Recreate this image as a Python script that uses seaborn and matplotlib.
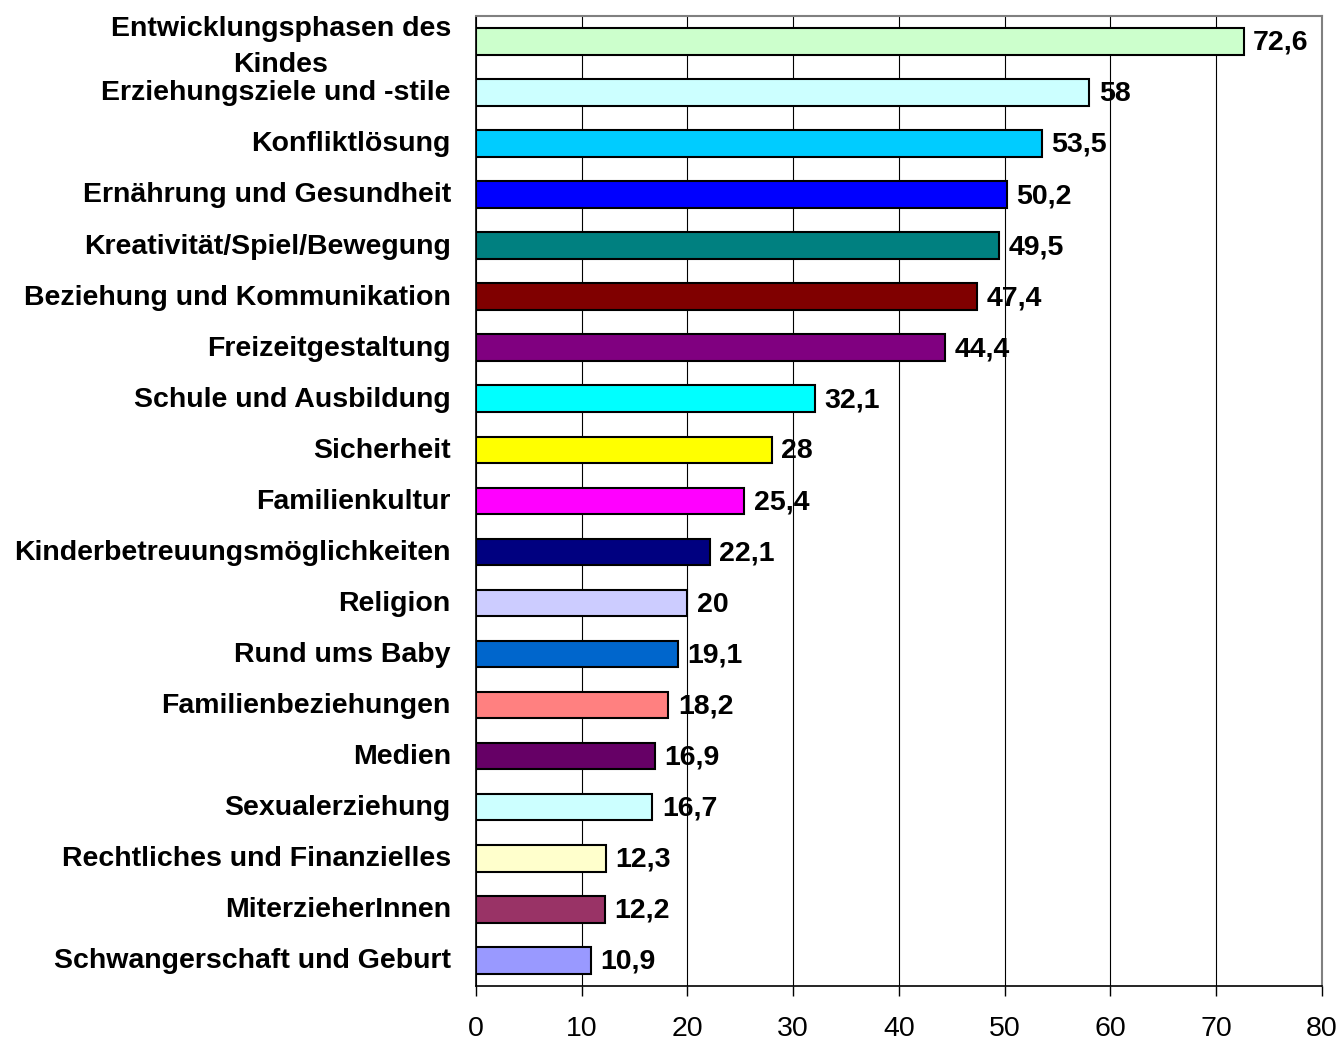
import pandas as pd
import matplotlib.pyplot as plt
import seaborn as sns

# Themen und Anteile (%)
themen = [
    "Entwicklungsphasen des\nKindes",
    "Erziehungsziele und -stile",
    "Konfliktlösung",
    "Ernährung und Gesundheit",
    "Kreativität/Spiel/Bewegung",
    "Beziehung und Kommunikation",
    "Freizeitgestaltung",
    "Schule und Ausbildung",
    "Sicherheit",
    "Familienkultur",
    "Kinderbetreuungsmöglichkeiten",
    "Religion",
    "Rund ums Baby",
    "Familienbeziehungen",
    "Medien",
    "Sexualerziehung",
    "Rechtliches und Finanzielles",
    "MiterzieherInnen",
    "Schwangerschaft und Geburt",
]
werte = [72.6, 58, 53.5, 50.2, 49.5, 47.4, 44.4, 32.1, 28, 25.4,
         22.1, 20, 19.1, 18.2, 16.9, 16.7, 12.3, 12.2, 10.9]
farben = ["#CCFFCC", "#CCFFFF", "#00CCFF", "#0000FF", "#008080", "#800000",
          "#800080", "#00FFFF", "#FFFF00", "#FF00FF", "#000080", "#CCCCFF",
          "#0066CC", "#FF8080", "#660066", "#CCFFFF", "#FFFFCC", "#993366",
          "#9999FF"]
x_ticks = [0, 10, 20, 30, 40, 50, 60, 70, 80]

df = pd.DataFrame({"Thema": themen, "Wert": werte})

sns.set_style("white")
plt.rcParams['font.family'] = ['Liberation Sans', 'DejaVu Sans']
plt.rcParams['text.color'] = 'black'
plt.rcParams['xtick.color'] = 'black'
plt.rcParams['ytick.color'] = 'black'

fig = plt.figure(figsize=(13.44, 10.40), dpi=100)
ax = fig.add_axes([0.354, 0.052, 0.6296, 0.9328])

sns.barplot(data=df, x="Wert", y="Thema", hue="Thema", palette=farben,
            legend=False, width=0.52, edgecolor="black", linewidth=1.5,
            saturation=1, ax=ax, zorder=3)

# Werte an den Balkenenden
for i, v in enumerate(werte):
    label = f"{v:g}".replace(".", ",")
    ax.text(v + 0.9, i + 0.03, label, va="center", ha="left",
            fontsize=20.5, fontweight="bold", zorder=4)

ax.set_xlim(0, 80)
ax.set_ylim(len(themen) - 0.5, -0.5)
ax.set_xticks(x_ticks)
ax.set_xticklabels([str(t) for t in x_ticks], fontsize=20.5)
ax.xaxis.grid(True, color="black", linewidth=0.8, zorder=0)
ax.set_axisbelow(True)

# Kategorie-Beschriftungen
ax.set_yticks([i - 0.04 for i in range(len(themen))])
ax.set_yticklabels(themen, fontsize=20.5, fontweight="bold",
                   multialignment="center", linespacing=1.5)
ax.tick_params(axis="y", length=0, pad=18)
ax.set_yticks([i - 0.5 for i in range(len(themen) + 1)], minor=True)
ax.tick_params(axis="y", which="minor", length=7, width=1, color="black")
ax.tick_params(axis="x", length=7, width=1, color="black", pad=15,
               direction="out", bottom=True)

ax.set_xlabel("")
ax.set_ylabel("")

for side in ["left", "bottom"]:
    ax.spines[side].set_color("black")
    ax.spines[side].set_linewidth(1.2)
for side in ["top", "right"]:
    ax.spines[side].set_color("#808080")
    ax.spines[side].set_linewidth(1.5)

fig.savefig("out.png", dpi=100)
plt.close(fig)
